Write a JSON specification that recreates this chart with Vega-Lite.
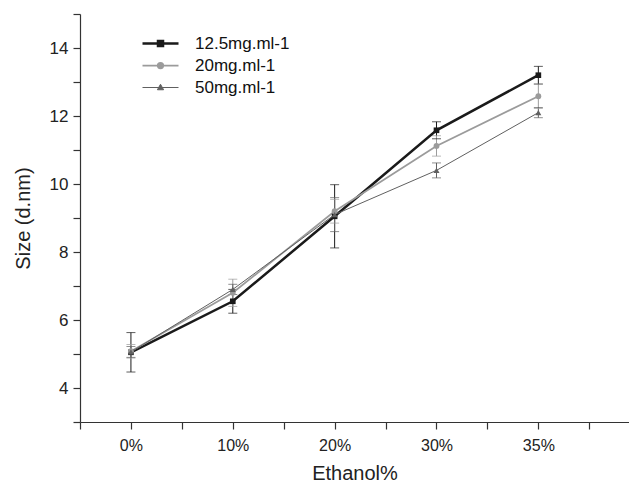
{
  "$schema": "https://vega.github.io/schema/vega-lite/v6.json",
  "width": 549,
  "height": 408,
  "autosize": {"type": "none"},
  "padding": {"left": 80, "top": 14, "right": 0, "bottom": 64},
  "background": "white",
  "config": {
    "view": {"stroke": null},
    "font": "Liberation Sans",
    "axis": {
      "domainColor": "#333333",
      "tickColor": "#333333",
      "labelColor": "#222222",
      "titleColor": "#222222",
      "labelFont": "Liberation Sans",
      "titleFont": "Liberation Sans",
      "titleFontSize": 20,
      "titleFontWeight": "normal",
      "grid": false,
      "domainWidth": 1.2,
      "tickWidth": 1.2
    }
  },
  "data": {
    "values": [
      {"i": 0, "series": "12.5mg.ml-1", "y": 5.05, "lo": 4.47, "hi": 5.63},
      {"i": 1, "series": "12.5mg.ml-1", "y": 6.55, "lo": 6.2, "hi": 6.9},
      {"i": 2, "series": "12.5mg.ml-1", "y": 9.05, "lo": 8.12, "hi": 9.98},
      {"i": 3, "series": "12.5mg.ml-1", "y": 11.58, "lo": 11.33, "hi": 11.83},
      {"i": 4, "series": "12.5mg.ml-1", "y": 13.2, "lo": 12.94, "hi": 13.46},
      {"i": 0, "series": "20mg.ml-1", "y": 5.08, "lo": 4.88, "hi": 5.28},
      {"i": 1, "series": "20mg.ml-1", "y": 6.8, "lo": 6.4, "hi": 7.2},
      {"i": 2, "series": "20mg.ml-1", "y": 9.2, "lo": 8.85, "hi": 9.55},
      {"i": 3, "series": "20mg.ml-1", "y": 11.12, "lo": 10.82, "hi": 11.42},
      {"i": 4, "series": "20mg.ml-1", "y": 12.58, "lo": 12.22, "hi": 12.94},
      {"i": 0, "series": "50mg.ml-1", "y": 5.06, "lo": 4.9, "hi": 5.22},
      {"i": 1, "series": "50mg.ml-1", "y": 6.9, "lo": 6.75, "hi": 7.05},
      {"i": 2, "series": "50mg.ml-1", "y": 9.1, "lo": 8.6, "hi": 9.6},
      {"i": 3, "series": "50mg.ml-1", "y": 10.4, "lo": 10.18, "hi": 10.62},
      {"i": 4, "series": "50mg.ml-1", "y": 12.1, "lo": 11.95, "hi": 12.25}
    ]
  },
  "encoding": {
    "x": {
      "field": "i",
      "type": "quantitative",
      "scale": {"domain": [-0.5, 4.89], "nice": false, "zero": false},
      "axis": {
        "title": "Ethanol%",
        "values": [-0.5, 0, 0.5, 1, 1.5, 2, 2.5, 3, 3.5, 4, 4.5],
        "labelExpr": "datum.value === 0 ? '0%' : datum.value === 1 ? '10%' : datum.value === 2 ? '20%' : datum.value === 3 ? '30%' : datum.value === 4 ? '35%' : ''",
        "labelFontSize": 16,
        "tickSize": 7,
        "labelPadding": 8,
        "titlePadding": 10,
        "labelFlush": false,
        "labelOverlap": false,
        "encode": {"ticks": {"update": {"y2": {"signal": "datum.value % 1 === 0 ? 7 : 4"}}}}
      }
    },
    "y": {
      "field": "y",
      "type": "quantitative",
      "title": "Size (d.nm)",
      "scale": {"domain": [3, 15], "nice": false, "zero": false},
      "axis": {
        "title": "Size (d.nm)",
        "values": [3, 4, 5, 6, 7, 8, 9, 10, 11, 12, 13, 14, 15],
        "labelExpr": "datum.value === 4 ? '4' : datum.value === 6 ? '6' : datum.value === 8 ? '8' : datum.value === 10 ? '10' : datum.value === 12 ? '12' : datum.value === 14 ? '14' : ''",
        "labelFontSize": 17,
        "tickSize": 7,
        "labelPadding": 5,
        "titlePadding": 16,
        "labelFlush": false,
        "labelOverlap": false,
        "encode": {"ticks": {"update": {"x2": {"signal": "datum.value % 2 === 0 ? -7 : -4"}}}}
      }
    },
    "color": {
      "field": "series",
      "type": "nominal",
      "scale": {"domain": ["12.5mg.ml-1", "20mg.ml-1", "50mg.ml-1"], "range": ["#1a1a1a", "#9b9b9b", "#606060"]}
    }
  },
  "layer": [
    {
      "mark": {"type": "rule", "strokeWidth": 1},
      "encoding": {
        "y": {"field": "lo", "type": "quantitative", "title": "Size (d.nm)"},
        "y2": {"field": "hi"}
      }
    },
    {
      "mark": {"type": "tick", "orient": "horizontal", "size": 9, "thickness": 1},
      "encoding": {
        "y": {"field": "lo", "type": "quantitative", "title": "Size (d.nm)"}
      }
    },
    {
      "mark": {"type": "tick", "orient": "horizontal", "size": 9, "thickness": 1},
      "encoding": {
        "y": {"field": "hi", "type": "quantitative", "title": "Size (d.nm)"}
      }
    },
    {
      "mark": {"type": "line"},
      "encoding": {
        "strokeWidth": {
          "field": "series",
          "type": "nominal",
          "scale": {"domain": ["12.5mg.ml-1", "20mg.ml-1", "50mg.ml-1"], "range": [2.5, 1, 1]},
          "legend": null
        },
        "color": {
          "field": "series",
          "type": "nominal",
          "legend": {
            "orient": "none",
            "legendX": 72,
            "legendY": 21,
            "title": null,
            "padding": 0,
            "labelFont": "Liberation Sans",
            "labelFontSize": 17,
            "labelColor": "#111111",
            "symbolSize": 100,
            "labelOffset": 26,
            "rowPadding": 4,
            "encode": {
              "symbols": {
                "update": {
                  "shape": {"signal": "datum.value === '12.5mg.ml-1' ? 'M-3.6,0H3.6M-0.5,-0.5H0.5V0.5H-0.5Z' : datum.value === '20mg.ml-1' ? 'M-3.6,0H3.6M0.55,0A0.55,0.55,0,1,1,-0.55,0A0.55,0.55,0,1,1,0.55,0Z' : 'M-3.6,0H3.6M0,-0.65L0.62,0.45H-0.62Z'"},
                  "strokeWidth": {"signal": "datum.value === '12.5mg.ml-1' ? 2.5 : 1"},
                  "stroke": {"signal": "datum.value === '12.5mg.ml-1' ? '#1a1a1a' : datum.value === '20mg.ml-1' ? '#9b9b9b' : '#606060'"},
                  "fill": {"signal": "datum.value === '12.5mg.ml-1' ? '#1a1a1a' : datum.value === '20mg.ml-1' ? '#9b9b9b' : '#606060'"},
                  "opacity": {"value": 1}
                }
              }
            }
          }
        }
      }
    },
    {
      "transform": [{"filter": "datum.series === '12.5mg.ml-1'"}],
      "mark": {"type": "point", "filled": true, "shape": "square", "size": 32, "opacity": 1}
    },
    {
      "transform": [{"filter": "datum.series === '20mg.ml-1'"}],
      "mark": {"type": "point", "filled": true, "shape": "circle", "size": 34, "opacity": 1}
    },
    {
      "transform": [{"filter": "datum.series === '50mg.ml-1'"}],
      "mark": {"type": "point", "filled": true, "shape": "triangle-up", "size": 36, "opacity": 1}
    }
  ]
}
